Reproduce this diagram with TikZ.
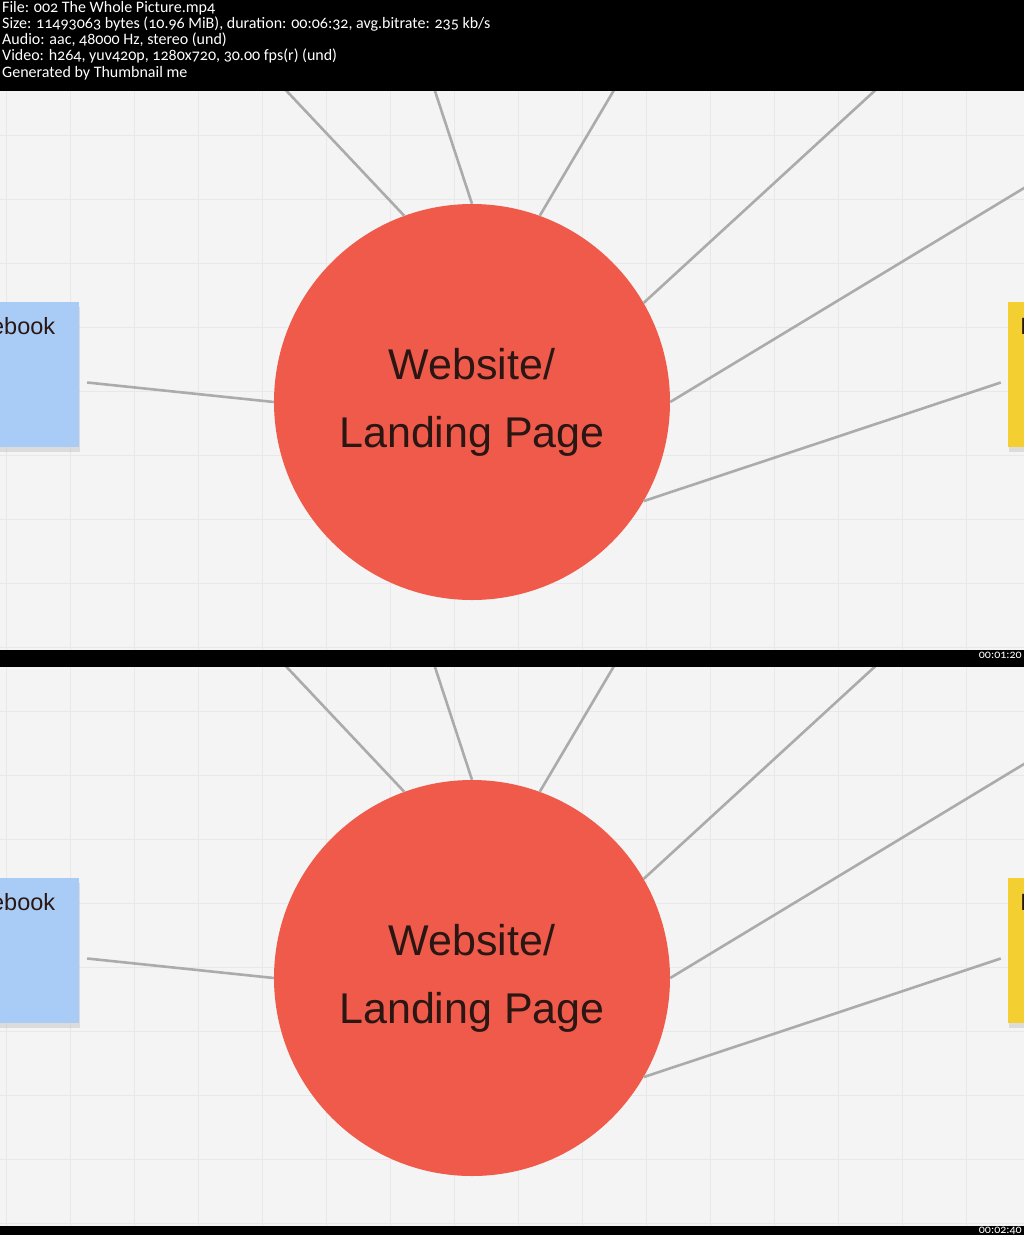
\documentclass[tikz,border=0pt]{standalone}
\usepackage{fontspec}
\setmainfont{Liberation Sans}
\newfontfamily\capfont[Numbers=OldStyle]{Carlito}
\usetikzlibrary{calc,shadows}
\definecolor{sitered}{HTML}{EF5A4B}
\definecolor{sitetext}{HTML}{2A1613}
\definecolor{linkgray}{HTML}{ABABAB}
\definecolor{gridgray}{HTML}{E8E8E8}
\definecolor{boardbg}{HTML}{F4F4F4}
\definecolor{fbblue}{HTML}{A9CCF6}
\definecolor{noteyellow}{HTML}{F3CF32}
\tikzset{
  site/.style={circle, fill=sitered, minimum size=396pt, inner sep=0pt,
    align=center, text=sitetext, font=\fontsize{43}{68}\selectfont},
  link/.style={draw=linkgray, line width=2.6pt},
  gridline/.style={draw=gridgray, line width=1pt},
  note/.style={rectangle, minimum width=139pt, minimum height=145pt,
    inner xsep=12pt, inner ysep=7pt, text width=115pt, align=left,
    text height=25pt, text depth=106pt, text=sitetext,
    font=\fontsize{23.5}{28}\selectfont,
    drop shadow={shadow xshift=1pt, shadow yshift=-5pt, opacity=.2}},
  hdr/.style={text=white, align=left, inner sep=0pt,
    font=\capfont\fontsize{16}{16.2}\selectfont},
  stamp/.style={text=white, inner sep=0pt, font=\capfont\fontsize{12}{12}\selectfont}
}

\begin{document}
\begin{tikzpicture}[x=1pt, y=-1pt]
\useasboundingbox (0,0) rectangle (1024,1235);
% the two frames
\foreach \p/\dy in {a/0, b/576} {
  \fill[boardbg] (0,91+\dy) rectangle (1024,650+\dy);
  \foreach \gx in {6,70,...,1030}
    \draw[gridline] (\gx,91+\dy) -- (\gx,650+\dy);
  \foreach \gy in {135,199,...,650}
    \draw[gridline] (0,\gy+\dy) -- (1024,\gy+\dy);
  \node[note, fill=fbblue] (fb\p) at (9.5,374.5+\dy) {Facebook};
  \node[note, fill=noteyellow] (yel\p) at (1077.5,374.5+\dy) {I};
  \node[site] (site\p) at (472,402+\dy) {Website/\\Landing Page};
  % spokes to the top and right
  \foreach \ang/\ex/\ey [count=\k] in {110/281/85, 90/433/85, 70/617/85,
      30/881/85, 0/1034/182} {
    \coordinate (end\p\k) at (\ex,\ey+\dy);
    \draw[link] (site\p.\ang) -- (end\p\k);
  }
  \draw[link] (site\p.-30) -- ([shift={(-7,8)}]yel\p.west);
  \draw[link] (site\p.180) -- ([shift={(8,8)}]fb\p.east);
}
% black bars
\fill[black] (0,0) rectangle (1024,91);
\fill[black] (0,650) rectangle (1024,667);
\fill[black] (0,1226) rectangle (1024,1235);
\node[hdr, anchor=north west] (info) at (2,1)
  {File: 002 The Whole Picture.mp4\\
   Size: 11493063 bytes (10.96 MiB), duration: 00:06:32, avg.bitrate: 235 kb/s\\
   Audio: aac, 48000 Hz, stereo (und)\\
   Video: h264, yuv420p, 1280x720, 30.00 fps(r) (und)\\
   Generated by Thumbnail me};
\node[stamp, anchor=base east] (time1) at (1022,658) {00:01:20};
\node[stamp, anchor=base east] (time2) at (1022,1233) {00:02:40};
\end{tikzpicture}
\end{document}
